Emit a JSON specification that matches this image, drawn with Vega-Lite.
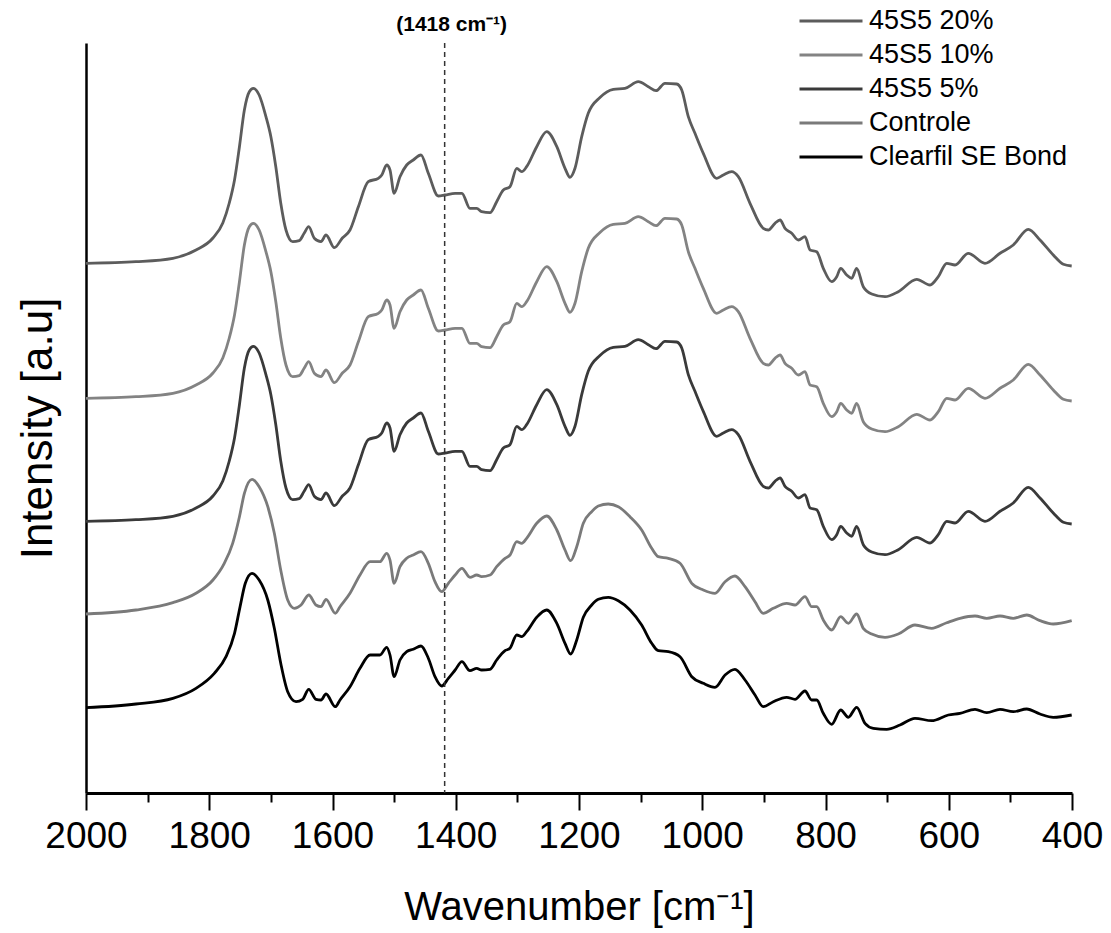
{
"$schema":"https://vega.github.io/schema/vega-lite/v6.json",
"width":986,"height":750,
"autosize":{"type":"none"},
"padding":{"left":86,"top":43,"right":39,"bottom":140},
"background":"white",
"config":{"font":"Liberation Sans","view":{"stroke":null}},
"datasets":{
"spectra":[
{"s":"45S5 20%","w":2000,"i":536.7},{"s":"45S5 20%","w":1919,"i":538.3},{"s":"45S5 20%","w":1859,"i":541.7},{"s":"45S5 20%","w":1821.5,"i":550},{"s":"45S5 20%","w":1794,"i":562},{"s":"45S5 20%","w":1778,"i":577},{"s":"45S5 20%","w":1767.5,"i":597},{"s":"45S5 20%","w":1759,"i":620},{"s":"45S5 20%","w":1751,"i":653.3},{"s":"45S5 20%","w":1743,"i":690},{"s":"45S5 20%","w":1735,"i":708.3},{"s":"45S5 20%","w":1728.5,"i":711.7},{"s":"45S5 20%","w":1719,"i":705},{"s":"45S5 20%","w":1708,"i":683.3},{"s":"45S5 20%","w":1700,"i":663.3},{"s":"45S5 20%","w":1692,"i":633.3},{"s":"45S5 20%","w":1684,"i":597},{"s":"45S5 20%","w":1675.5,"i":570},{"s":"45S5 20%","w":1664.6,"i":558.3},{"s":"45S5 20%","w":1654,"i":559.3},{"s":"45S5 20%","w":1646,"i":566.7},{"s":"45S5 20%","w":1638.6,"i":573.3},{"s":"45S5 20%","w":1629.5,"i":561.7},{"s":"45S5 20%","w":1618.7,"i":558.3},{"s":"45S5 20%","w":1610.5,"i":565},{"s":"45S5 20%","w":1597,"i":552.3},{"s":"45S5 20%","w":1584,"i":562},{"s":"45S5 20%","w":1571.6,"i":570},{"s":"45S5 20%","w":1558,"i":593.3},{"s":"45S5 20%","w":1542,"i":618.3},{"s":"45S5 20%","w":1525.7,"i":621.7},{"s":"45S5 20%","w":1520,"i":625},{"s":"45S5 20%","w":1512,"i":635},{"s":"45S5 20%","w":1506.7,"i":630},{"s":"45S5 20%","w":1500,"i":606.7},{"s":"45S5 20%","w":1490.5,"i":623.3},{"s":"45S5 20%","w":1479.6,"i":635},{"s":"45S5 20%","w":1469,"i":640},{"s":"45S5 20%","w":1456.4,"i":645},{"s":"45S5 20%","w":1444.5,"i":626.7},{"s":"45S5 20%","w":1428.3,"i":604},{"s":"45S5 20%","w":1417.4,"i":605},{"s":"45S5 20%","w":1401,"i":606.7},{"s":"45S5 20%","w":1390,"i":606.7},{"s":"45S5 20%","w":1377,"i":591.7},{"s":"45S5 20%","w":1366,"i":591.7},{"s":"45S5 20%","w":1358,"i":588.3},{"s":"45S5 20%","w":1344.4,"i":587.3},{"s":"45S5 20%","w":1333.6,"i":598.3},{"s":"45S5 20%","w":1322.8,"i":610},{"s":"45S5 20%","w":1312,"i":613.3},{"s":"45S5 20%","w":1301,"i":631.7},{"s":"45S5 20%","w":1293,"i":628.3},{"s":"45S5 20%","w":1285,"i":633.3},{"s":"45S5 20%","w":1268.6,"i":653.3},{"s":"45S5 20%","w":1252.4,"i":668.3},{"s":"45S5 20%","w":1236,"i":653.3},{"s":"45S5 20%","w":1222.7,"i":631.7},{"s":"45S5 20%","w":1214.6,"i":622.7},{"s":"45S5 20%","w":1206.5,"i":631.7},{"s":"45S5 20%","w":1195.6,"i":663.3},{"s":"45S5 20%","w":1185,"i":686.7},{"s":"45S5 20%","w":1166,"i":702.5},{"s":"45S5 20%","w":1144.3,"i":710.7},{"s":"45S5 20%","w":1125.4,"i":711.7},{"s":"45S5 20%","w":1103.8,"i":718.3},{"s":"45S5 20%","w":1087.5,"i":713.3},{"s":"45S5 20%","w":1075,"i":709.3},{"s":"45S5 20%","w":1060.5,"i":716.7},{"s":"45S5 20%","w":1041.5,"i":716},{"s":"45S5 20%","w":1033.3,"i":710},{"s":"45S5 20%","w":1022.6,"i":683.3},{"s":"45S5 20%","w":1011.8,"i":666.7},{"s":"45S5 20%","w":998.3,"i":646.7},{"s":"45S5 20%","w":976.5,"i":621.7},{"s":"45S5 20%","w":965.8,"i":625},{"s":"45S5 20%","w":952.2,"i":628.3},{"s":"45S5 20%","w":941.5,"i":623.3},{"s":"45S5 20%","w":922.5,"i":596.7},{"s":"45S5 20%","w":901,"i":571.7},{"s":"45S5 20%","w":892.8,"i":570},{"s":"45S5 20%","w":882,"i":576.7},{"s":"45S5 20%","w":873.8,"i":580},{"s":"45S5 20%","w":865.7,"i":571.7},{"s":"45S5 20%","w":854.8,"i":566.7},{"s":"45S5 20%","w":844,"i":560},{"s":"45S5 20%","w":833.3,"i":563.3},{"s":"45S5 20%","w":825,"i":550},{"s":"45S5 20%","w":814.3,"i":548.3},{"s":"45S5 20%","w":803.6,"i":531.7},{"s":"45S5 20%","w":790,"i":518.3},{"s":"45S5 20%","w":781.8,"i":523.3},{"s":"45S5 20%","w":775.3,"i":531.7},{"s":"45S5 20%","w":765.6,"i":525},{"s":"45S5 20%","w":757.5,"i":521.7},{"s":"45S5 20%","w":749.4,"i":531.7},{"s":"45S5 20%","w":738.7,"i":513.3},{"s":"45S5 20%","w":725,"i":506},{"s":"45S5 20%","w":703.4,"i":503.3},{"s":"45S5 20%","w":681.9,"i":508.3},{"s":"45S5 20%","w":652,"i":520.7},{"s":"45S5 20%","w":630.4,"i":515},{"s":"45S5 20%","w":617,"i":523.3},{"s":"45S5 20%","w":603.3,"i":536.7},{"s":"45S5 20%","w":589.8,"i":535},{"s":"45S5 20%","w":568.3,"i":546.7},{"s":"45S5 20%","w":541.2,"i":536.7},{"s":"45S5 20%","w":516.8,"i":546.7},{"s":"45S5 20%","w":495.3,"i":555},{"s":"45S5 20%","w":470.9,"i":570.7},{"s":"45S5 20%","w":451.9,"i":560},{"s":"45S5 20%","w":430.4,"i":545},{"s":"45S5 20%","w":414,"i":535.7},{"s":"45S5 20%","w":400.5,"i":534},
{"s":"45S5 10%","w":2000,"i":401.7},{"s":"45S5 10%","w":1919,"i":403.3},{"s":"45S5 10%","w":1859,"i":406.7},{"s":"45S5 10%","w":1821.5,"i":415},{"s":"45S5 10%","w":1794,"i":427},{"s":"45S5 10%","w":1778,"i":442},{"s":"45S5 10%","w":1767.5,"i":462},{"s":"45S5 10%","w":1759,"i":485},{"s":"45S5 10%","w":1751,"i":518.3},{"s":"45S5 10%","w":1743,"i":555},{"s":"45S5 10%","w":1735,"i":573.3},{"s":"45S5 10%","w":1728.5,"i":576.7},{"s":"45S5 10%","w":1719,"i":570},{"s":"45S5 10%","w":1708,"i":548.3},{"s":"45S5 10%","w":1700,"i":528.3},{"s":"45S5 10%","w":1692,"i":498.3},{"s":"45S5 10%","w":1684,"i":462},{"s":"45S5 10%","w":1675.5,"i":435},{"s":"45S5 10%","w":1664.6,"i":423.3},{"s":"45S5 10%","w":1654,"i":424.3},{"s":"45S5 10%","w":1646,"i":431.7},{"s":"45S5 10%","w":1638.6,"i":438.3},{"s":"45S5 10%","w":1629.5,"i":426.7},{"s":"45S5 10%","w":1618.7,"i":423.3},{"s":"45S5 10%","w":1610.5,"i":430},{"s":"45S5 10%","w":1597,"i":417.3},{"s":"45S5 10%","w":1584,"i":427},{"s":"45S5 10%","w":1571.6,"i":435},{"s":"45S5 10%","w":1558,"i":458.3},{"s":"45S5 10%","w":1542,"i":483.3},{"s":"45S5 10%","w":1525.7,"i":486.7},{"s":"45S5 10%","w":1520,"i":490},{"s":"45S5 10%","w":1512,"i":500},{"s":"45S5 10%","w":1506.7,"i":495},{"s":"45S5 10%","w":1500,"i":471.7},{"s":"45S5 10%","w":1490.5,"i":488.3},{"s":"45S5 10%","w":1479.6,"i":500},{"s":"45S5 10%","w":1469,"i":505},{"s":"45S5 10%","w":1456.4,"i":510},{"s":"45S5 10%","w":1444.5,"i":491.7},{"s":"45S5 10%","w":1428.3,"i":469},{"s":"45S5 10%","w":1417.4,"i":470},{"s":"45S5 10%","w":1401,"i":471.7},{"s":"45S5 10%","w":1390,"i":471.7},{"s":"45S5 10%","w":1377,"i":456.7},{"s":"45S5 10%","w":1366,"i":456.7},{"s":"45S5 10%","w":1358,"i":453.3},{"s":"45S5 10%","w":1344.4,"i":452.3},{"s":"45S5 10%","w":1333.6,"i":463.3},{"s":"45S5 10%","w":1322.8,"i":475},{"s":"45S5 10%","w":1312,"i":478.3},{"s":"45S5 10%","w":1301,"i":496.7},{"s":"45S5 10%","w":1293,"i":493.3},{"s":"45S5 10%","w":1285,"i":498.3},{"s":"45S5 10%","w":1268.6,"i":518.3},{"s":"45S5 10%","w":1252.4,"i":533.3},{"s":"45S5 10%","w":1236,"i":518.3},{"s":"45S5 10%","w":1222.7,"i":496.7},{"s":"45S5 10%","w":1214.6,"i":487.7},{"s":"45S5 10%","w":1206.5,"i":496.7},{"s":"45S5 10%","w":1195.6,"i":528.3},{"s":"45S5 10%","w":1185,"i":551.7},{"s":"45S5 10%","w":1166,"i":567.5},{"s":"45S5 10%","w":1144.3,"i":575.7},{"s":"45S5 10%","w":1125.4,"i":576.7},{"s":"45S5 10%","w":1103.8,"i":583.3},{"s":"45S5 10%","w":1087.5,"i":578.3},{"s":"45S5 10%","w":1075,"i":574.3},{"s":"45S5 10%","w":1060.5,"i":581.7},{"s":"45S5 10%","w":1041.5,"i":581},{"s":"45S5 10%","w":1033.3,"i":575},{"s":"45S5 10%","w":1022.6,"i":548.3},{"s":"45S5 10%","w":1011.8,"i":531.7},{"s":"45S5 10%","w":998.3,"i":511.7},{"s":"45S5 10%","w":976.5,"i":486.7},{"s":"45S5 10%","w":965.8,"i":490},{"s":"45S5 10%","w":952.2,"i":493.3},{"s":"45S5 10%","w":941.5,"i":488.3},{"s":"45S5 10%","w":922.5,"i":461.7},{"s":"45S5 10%","w":901,"i":436.7},{"s":"45S5 10%","w":892.8,"i":435},{"s":"45S5 10%","w":882,"i":441.7},{"s":"45S5 10%","w":873.8,"i":445},{"s":"45S5 10%","w":865.7,"i":436.7},{"s":"45S5 10%","w":854.8,"i":431.7},{"s":"45S5 10%","w":844,"i":425},{"s":"45S5 10%","w":833.3,"i":428.3},{"s":"45S5 10%","w":825,"i":415},{"s":"45S5 10%","w":814.3,"i":413.3},{"s":"45S5 10%","w":803.6,"i":396.7},{"s":"45S5 10%","w":790,"i":383.3},{"s":"45S5 10%","w":781.8,"i":388.3},{"s":"45S5 10%","w":775.3,"i":396.7},{"s":"45S5 10%","w":765.6,"i":390},{"s":"45S5 10%","w":757.5,"i":386.7},{"s":"45S5 10%","w":749.4,"i":396.7},{"s":"45S5 10%","w":738.7,"i":378.3},{"s":"45S5 10%","w":725,"i":371},{"s":"45S5 10%","w":703.4,"i":368.3},{"s":"45S5 10%","w":681.9,"i":373.3},{"s":"45S5 10%","w":652,"i":385.7},{"s":"45S5 10%","w":630.4,"i":380},{"s":"45S5 10%","w":617,"i":388.3},{"s":"45S5 10%","w":603.3,"i":401.7},{"s":"45S5 10%","w":589.8,"i":400},{"s":"45S5 10%","w":568.3,"i":411.7},{"s":"45S5 10%","w":541.2,"i":401.7},{"s":"45S5 10%","w":516.8,"i":411.7},{"s":"45S5 10%","w":495.3,"i":420},{"s":"45S5 10%","w":470.9,"i":435.7},{"s":"45S5 10%","w":451.9,"i":425},{"s":"45S5 10%","w":430.4,"i":410},{"s":"45S5 10%","w":414,"i":400.7},{"s":"45S5 10%","w":400.5,"i":399},
{"s":"45S5 5%","w":2000,"i":278.7},{"s":"45S5 5%","w":1919,"i":280.3},{"s":"45S5 5%","w":1859,"i":283.7},{"s":"45S5 5%","w":1821.5,"i":292},{"s":"45S5 5%","w":1794,"i":304},{"s":"45S5 5%","w":1778,"i":319},{"s":"45S5 5%","w":1767.5,"i":339},{"s":"45S5 5%","w":1759,"i":362},{"s":"45S5 5%","w":1751,"i":395.3},{"s":"45S5 5%","w":1743,"i":432},{"s":"45S5 5%","w":1735,"i":450.3},{"s":"45S5 5%","w":1728.5,"i":453.7},{"s":"45S5 5%","w":1719,"i":447},{"s":"45S5 5%","w":1708,"i":425.3},{"s":"45S5 5%","w":1700,"i":405.3},{"s":"45S5 5%","w":1692,"i":375.3},{"s":"45S5 5%","w":1684,"i":339},{"s":"45S5 5%","w":1675.5,"i":312},{"s":"45S5 5%","w":1664.6,"i":300.3},{"s":"45S5 5%","w":1654,"i":301.3},{"s":"45S5 5%","w":1646,"i":308.7},{"s":"45S5 5%","w":1638.6,"i":315.3},{"s":"45S5 5%","w":1629.5,"i":303.7},{"s":"45S5 5%","w":1618.7,"i":300.3},{"s":"45S5 5%","w":1610.5,"i":307},{"s":"45S5 5%","w":1597,"i":294.3},{"s":"45S5 5%","w":1584,"i":304},{"s":"45S5 5%","w":1571.6,"i":312},{"s":"45S5 5%","w":1558,"i":335.3},{"s":"45S5 5%","w":1542,"i":360.3},{"s":"45S5 5%","w":1525.7,"i":363.7},{"s":"45S5 5%","w":1520,"i":367},{"s":"45S5 5%","w":1512,"i":377},{"s":"45S5 5%","w":1506.7,"i":372},{"s":"45S5 5%","w":1500,"i":348.7},{"s":"45S5 5%","w":1490.5,"i":365.3},{"s":"45S5 5%","w":1479.6,"i":377},{"s":"45S5 5%","w":1469,"i":382},{"s":"45S5 5%","w":1456.4,"i":387},{"s":"45S5 5%","w":1444.5,"i":368.7},{"s":"45S5 5%","w":1428.3,"i":346},{"s":"45S5 5%","w":1417.4,"i":347},{"s":"45S5 5%","w":1401,"i":348.7},{"s":"45S5 5%","w":1390,"i":348.7},{"s":"45S5 5%","w":1377,"i":333.7},{"s":"45S5 5%","w":1366,"i":333.7},{"s":"45S5 5%","w":1358,"i":330.3},{"s":"45S5 5%","w":1344.4,"i":329.3},{"s":"45S5 5%","w":1333.6,"i":340.3},{"s":"45S5 5%","w":1322.8,"i":352},{"s":"45S5 5%","w":1312,"i":355.3},{"s":"45S5 5%","w":1301,"i":373.7},{"s":"45S5 5%","w":1293,"i":370.3},{"s":"45S5 5%","w":1285,"i":375.3},{"s":"45S5 5%","w":1268.6,"i":395.3},{"s":"45S5 5%","w":1252.4,"i":410.3},{"s":"45S5 5%","w":1236,"i":395.3},{"s":"45S5 5%","w":1222.7,"i":373.7},{"s":"45S5 5%","w":1214.6,"i":364.7},{"s":"45S5 5%","w":1206.5,"i":373.7},{"s":"45S5 5%","w":1195.6,"i":405.3},{"s":"45S5 5%","w":1185,"i":428.7},{"s":"45S5 5%","w":1166,"i":444.5},{"s":"45S5 5%","w":1144.3,"i":452.7},{"s":"45S5 5%","w":1125.4,"i":453.7},{"s":"45S5 5%","w":1103.8,"i":460.3},{"s":"45S5 5%","w":1087.5,"i":455.3},{"s":"45S5 5%","w":1075,"i":451.3},{"s":"45S5 5%","w":1060.5,"i":458.7},{"s":"45S5 5%","w":1041.5,"i":458},{"s":"45S5 5%","w":1033.3,"i":452},{"s":"45S5 5%","w":1022.6,"i":425.3},{"s":"45S5 5%","w":1011.8,"i":408.7},{"s":"45S5 5%","w":998.3,"i":388.7},{"s":"45S5 5%","w":976.5,"i":363.7},{"s":"45S5 5%","w":965.8,"i":367},{"s":"45S5 5%","w":952.2,"i":370.3},{"s":"45S5 5%","w":941.5,"i":365.3},{"s":"45S5 5%","w":922.5,"i":338.7},{"s":"45S5 5%","w":901,"i":313.7},{"s":"45S5 5%","w":892.8,"i":312},{"s":"45S5 5%","w":882,"i":318.7},{"s":"45S5 5%","w":873.8,"i":322},{"s":"45S5 5%","w":865.7,"i":313.7},{"s":"45S5 5%","w":854.8,"i":308.7},{"s":"45S5 5%","w":844,"i":302},{"s":"45S5 5%","w":833.3,"i":305.3},{"s":"45S5 5%","w":825,"i":292},{"s":"45S5 5%","w":814.3,"i":290.3},{"s":"45S5 5%","w":803.6,"i":273.7},{"s":"45S5 5%","w":790,"i":260.3},{"s":"45S5 5%","w":781.8,"i":265.3},{"s":"45S5 5%","w":775.3,"i":273.7},{"s":"45S5 5%","w":765.6,"i":267},{"s":"45S5 5%","w":757.5,"i":263.7},{"s":"45S5 5%","w":749.4,"i":273.7},{"s":"45S5 5%","w":738.7,"i":255.3},{"s":"45S5 5%","w":725,"i":248},{"s":"45S5 5%","w":703.4,"i":245.3},{"s":"45S5 5%","w":681.9,"i":250.3},{"s":"45S5 5%","w":652,"i":262.7},{"s":"45S5 5%","w":630.4,"i":257},{"s":"45S5 5%","w":617,"i":265.3},{"s":"45S5 5%","w":603.3,"i":278.7},{"s":"45S5 5%","w":589.8,"i":277},{"s":"45S5 5%","w":568.3,"i":288.7},{"s":"45S5 5%","w":541.2,"i":278.7},{"s":"45S5 5%","w":516.8,"i":288.7},{"s":"45S5 5%","w":495.3,"i":297},{"s":"45S5 5%","w":470.9,"i":312.7},{"s":"45S5 5%","w":451.9,"i":302},{"s":"45S5 5%","w":430.4,"i":287},{"s":"45S5 5%","w":414,"i":277.7},{"s":"45S5 5%","w":400.5,"i":276},
{"s":"Controle","w":2000,"i":186},{"s":"Controle","w":1919,"i":190},{"s":"Controle","w":1859,"i":197.3},{"s":"Controle","w":1821.5,"i":206.7},{"s":"Controle","w":1794,"i":220},{"s":"Controle","w":1775.6,"i":236.7},{"s":"Controle","w":1762,"i":256.7},{"s":"Controle","w":1751,"i":283.3},{"s":"Controle","w":1743,"i":306.7},{"s":"Controle","w":1730.6,"i":320.7},{"s":"Controle","w":1719,"i":313.3},{"s":"Controle","w":1705,"i":293.3},{"s":"Controle","w":1694.4,"i":266.7},{"s":"Controle","w":1684,"i":230},{"s":"Controle","w":1672.7,"i":200},{"s":"Controle","w":1662,"i":191.7},{"s":"Controle","w":1651,"i":195},{"s":"Controle","w":1638.6,"i":205},{"s":"Controle","w":1626.8,"i":195},{"s":"Controle","w":1618.7,"i":193.3},{"s":"Controle","w":1610.5,"i":200.7},{"s":"Controle","w":1595.5,"i":186.7},{"s":"Controle","w":1587.8,"i":193.3},{"s":"Controle","w":1571.6,"i":206.7},{"s":"Controle","w":1555.4,"i":225},{"s":"Controle","w":1539,"i":238.3},{"s":"Controle","w":1523,"i":238.3},{"s":"Controle","w":1512,"i":246.7},{"s":"Controle","w":1506.7,"i":240},{"s":"Controle","w":1500,"i":216.7},{"s":"Controle","w":1490.5,"i":233.3},{"s":"Controle","w":1479.6,"i":241.7},{"s":"Controle","w":1469,"i":245},{"s":"Controle","w":1456.4,"i":248.3},{"s":"Controle","w":1444.5,"i":236.7},{"s":"Controle","w":1433.7,"i":218.3},{"s":"Controle","w":1422.8,"i":208.3},{"s":"Controle","w":1412,"i":216.7},{"s":"Controle","w":1401,"i":225},{"s":"Controle","w":1390,"i":231.7},{"s":"Controle","w":1377,"i":222.7},{"s":"Controle","w":1366,"i":225},{"s":"Controle","w":1358,"i":223.3},{"s":"Controle","w":1344.4,"i":225},{"s":"Controle","w":1333.6,"i":233.3},{"s":"Controle","w":1320,"i":241.7},{"s":"Controle","w":1312,"i":245},{"s":"Controle","w":1301,"i":258.3},{"s":"Controle","w":1293,"i":256.7},{"s":"Controle","w":1285,"i":261.7},{"s":"Controle","w":1268.6,"i":276.7},{"s":"Controle","w":1252.4,"i":284},{"s":"Controle","w":1236,"i":270},{"s":"Controle","w":1222.7,"i":250},{"s":"Controle","w":1213.5,"i":239.3},{"s":"Controle","w":1203.7,"i":253.3},{"s":"Controle","w":1193,"i":276.7},{"s":"Controle","w":1179.4,"i":288.3},{"s":"Controle","w":1168.7,"i":294},{"s":"Controle","w":1152.5,"i":296},{"s":"Controle","w":1136.2,"i":293.3},{"s":"Controle","w":1117.3,"i":283.3},{"s":"Controle","w":1098.3,"i":270},{"s":"Controle","w":1082,"i":251.7},{"s":"Controle","w":1071.3,"i":243.3},{"s":"Controle","w":1055,"i":241.7},{"s":"Controle","w":1036,"i":236.7},{"s":"Controle","w":1017,"i":216.7},{"s":"Controle","w":998.3,"i":210},{"s":"Controle","w":979.3,"i":206.7},{"s":"Controle","w":963,"i":218.3},{"s":"Controle","w":946.9,"i":224},{"s":"Controle","w":930.6,"i":213.3},{"s":"Controle","w":914.4,"i":198.3},{"s":"Controle","w":901,"i":186.7},{"s":"Controle","w":884.7,"i":191.7},{"s":"Controle","w":863,"i":196.7},{"s":"Controle","w":849.5,"i":195},{"s":"Controle","w":833.3,"i":203.3},{"s":"Controle","w":822.4,"i":193.3},{"s":"Controle","w":814.3,"i":193.3},{"s":"Controle","w":803.6,"i":180},{"s":"Controle","w":790,"i":170},{"s":"Controle","w":775.3,"i":183.3},{"s":"Controle","w":763,"i":176.7},{"s":"Controle","w":749.4,"i":186},{"s":"Controle","w":738.7,"i":171.7},{"s":"Controle","w":725,"i":166},{"s":"Controle","w":703.4,"i":162.7},{"s":"Controle","w":681.9,"i":166},{"s":"Controle","w":654.8,"i":175},{"s":"Controle","w":627.7,"i":171.7},{"s":"Controle","w":603.3,"i":177.3},{"s":"Controle","w":581.8,"i":181.7},{"s":"Controle","w":557.4,"i":184},{"s":"Controle","w":538.4,"i":181.7},{"s":"Controle","w":516.8,"i":184},{"s":"Controle","w":495.3,"i":181.7},{"s":"Controle","w":473.5,"i":185},{"s":"Controle","w":451.9,"i":179.3},{"s":"Controle","w":430.4,"i":176},{"s":"Controle","w":400.5,"i":179.3},
{"s":"Clearfil SE Bond","w":2000,"i":92.3},{"s":"Clearfil SE Bond","w":1919,"i":96},{"s":"Clearfil SE Bond","w":1859,"i":101.7},{"s":"Clearfil SE Bond","w":1821.5,"i":111.7},{"s":"Clearfil SE Bond","w":1791.8,"i":126.7},{"s":"Clearfil SE Bond","w":1772.8,"i":143.3},{"s":"Clearfil SE Bond","w":1759,"i":166.7},{"s":"Clearfil SE Bond","w":1750,"i":193.3},{"s":"Clearfil SE Bond","w":1741.5,"i":216.7},{"s":"Clearfil SE Bond","w":1730.6,"i":226.7},{"s":"Clearfil SE Bond","w":1719,"i":220},{"s":"Clearfil SE Bond","w":1705,"i":200},{"s":"Clearfil SE Bond","w":1694.4,"i":171.7},{"s":"Clearfil SE Bond","w":1684,"i":136.7},{"s":"Clearfil SE Bond","w":1672.7,"i":108.3},{"s":"Clearfil SE Bond","w":1659.2,"i":98.3},{"s":"Clearfil SE Bond","w":1648.4,"i":100.7},{"s":"Clearfil SE Bond","w":1638.6,"i":110.7},{"s":"Clearfil SE Bond","w":1626.8,"i":100.7},{"s":"Clearfil SE Bond","w":1618.7,"i":100},{"s":"Clearfil SE Bond","w":1610.5,"i":106},{"s":"Clearfil SE Bond","w":1595.5,"i":93.3},{"s":"Clearfil SE Bond","w":1587.8,"i":100},{"s":"Clearfil SE Bond","w":1571.6,"i":113.3},{"s":"Clearfil SE Bond","w":1555.4,"i":131.7},{"s":"Clearfil SE Bond","w":1539,"i":145},{"s":"Clearfil SE Bond","w":1523,"i":145},{"s":"Clearfil SE Bond","w":1512,"i":152.7},{"s":"Clearfil SE Bond","w":1506.7,"i":145},{"s":"Clearfil SE Bond","w":1500,"i":123.3},{"s":"Clearfil SE Bond","w":1490.5,"i":140},{"s":"Clearfil SE Bond","w":1479.6,"i":148.3},{"s":"Clearfil SE Bond","w":1469,"i":150.7},{"s":"Clearfil SE Bond","w":1456.4,"i":154},{"s":"Clearfil SE Bond","w":1444.5,"i":141.7},{"s":"Clearfil SE Bond","w":1433.7,"i":123.3},{"s":"Clearfil SE Bond","w":1422.8,"i":114},{"s":"Clearfil SE Bond","w":1412,"i":121.7},{"s":"Clearfil SE Bond","w":1401,"i":130},{"s":"Clearfil SE Bond","w":1390,"i":138.3},{"s":"Clearfil SE Bond","w":1377,"i":129.3},{"s":"Clearfil SE Bond","w":1366,"i":131.7},{"s":"Clearfil SE Bond","w":1358,"i":130},{"s":"Clearfil SE Bond","w":1344.4,"i":130.7},{"s":"Clearfil SE Bond","w":1333.6,"i":140},{"s":"Clearfil SE Bond","w":1320,"i":149.3},{"s":"Clearfil SE Bond","w":1312,"i":151.7},{"s":"Clearfil SE Bond","w":1301,"i":165},{"s":"Clearfil SE Bond","w":1293,"i":163.3},{"s":"Clearfil SE Bond","w":1285,"i":168.3},{"s":"Clearfil SE Bond","w":1268.6,"i":182.7},{"s":"Clearfil SE Bond","w":1252.4,"i":190},{"s":"Clearfil SE Bond","w":1236,"i":176.7},{"s":"Clearfil SE Bond","w":1222.7,"i":156.7},{"s":"Clearfil SE Bond","w":1213.5,"i":146},{"s":"Clearfil SE Bond","w":1203.7,"i":160},{"s":"Clearfil SE Bond","w":1193,"i":182.7},{"s":"Clearfil SE Bond","w":1179.4,"i":195},{"s":"Clearfil SE Bond","w":1168.7,"i":200.7},{"s":"Clearfil SE Bond","w":1152.5,"i":202.7},{"s":"Clearfil SE Bond","w":1136.2,"i":199.3},{"s":"Clearfil SE Bond","w":1117.3,"i":190},{"s":"Clearfil SE Bond","w":1098.3,"i":175},{"s":"Clearfil SE Bond","w":1082,"i":156.7},{"s":"Clearfil SE Bond","w":1071.3,"i":149.3},{"s":"Clearfil SE Bond","w":1055,"i":148.3},{"s":"Clearfil SE Bond","w":1036,"i":143.3},{"s":"Clearfil SE Bond","w":1017,"i":123.3},{"s":"Clearfil SE Bond","w":998.3,"i":116.7},{"s":"Clearfil SE Bond","w":979.3,"i":112.7},{"s":"Clearfil SE Bond","w":963,"i":125},{"s":"Clearfil SE Bond","w":946.9,"i":130.7},{"s":"Clearfil SE Bond","w":930.6,"i":120},{"s":"Clearfil SE Bond","w":914.4,"i":105},{"s":"Clearfil SE Bond","w":901,"i":93.3},{"s":"Clearfil SE Bond","w":884.7,"i":98.3},{"s":"Clearfil SE Bond","w":863,"i":102.7},{"s":"Clearfil SE Bond","w":849.5,"i":100.7},{"s":"Clearfil SE Bond","w":833.3,"i":109},{"s":"Clearfil SE Bond","w":822.4,"i":100},{"s":"Clearfil SE Bond","w":814.3,"i":100},{"s":"Clearfil SE Bond","w":803.6,"i":86.7},{"s":"Clearfil SE Bond","w":790,"i":75.7},{"s":"Clearfil SE Bond","w":775.3,"i":90},{"s":"Clearfil SE Bond","w":763,"i":82.7},{"s":"Clearfil SE Bond","w":749.4,"i":92.7},{"s":"Clearfil SE Bond","w":735.9,"i":76.7},{"s":"Clearfil SE Bond","w":722.4,"i":71.7},{"s":"Clearfil SE Bond","w":700.7,"i":70.7},{"s":"Clearfil SE Bond","w":679.1,"i":75},{"s":"Clearfil SE Bond","w":654.8,"i":81.7},{"s":"Clearfil SE Bond","w":627.7,"i":79.3},{"s":"Clearfil SE Bond","w":600.7,"i":85},{"s":"Clearfil SE Bond","w":581.8,"i":86.7},{"s":"Clearfil SE Bond","w":557.4,"i":90.7},{"s":"Clearfil SE Bond","w":538.4,"i":87.3},{"s":"Clearfil SE Bond","w":516.8,"i":90.7},{"s":"Clearfil SE Bond","w":495.3,"i":88.3},{"s":"Clearfil SE Bond","w":473.5,"i":91},{"s":"Clearfil SE Bond","w":451.9,"i":86},{"s":"Clearfil SE Bond","w":430.4,"i":82.7},{"s":"Clearfil SE Bond","w":400.5,"i":85}
],
"marker":[{"w":1418,"i":775,"t":"(1418 cm⁻¹)"}]
},
"layer":[
{"data":{"name":"spectra"},
 "mark":{"type":"line","strokeWidth":2.8,"interpolate":"monotone"},
 "encoding":{
  "x":{"field":"w","type":"quantitative","scale":{"domain":[400,2000],"reverse":true,"nice":false,"zero":false},
   "axis":{"orient":"bottom","values":[2000,1800,1600,1400,1200,1000,800,600,400],"format":"d","grid":false,"tickSize":17,"tickWidth":2,"tickColor":"#000","domainWidth":3,"domainColor":"#000","labelFontSize":37,"labelColor":"#000","labelPadding":8,"labelFlush":false,"labelOverlap":false,"title":"Wavenumber [cm⁻¹]","titleFontSize":40,"titleFontWeight":"normal","titleColor":"#000","titlePadding":33}},
  "y":{"field":"i","type":"quantitative","scale":{"domain":[7,757],"nice":false,"zero":false},
   "axis":{"orient":"left","ticks":false,"labels":false,"grid":false,"domain":true,"domainWidth":2.5,"domainColor":"#000","title":"Intensity [a.u]","titleFontSize":44,"titleFontWeight":"normal","titleColor":"#000","titlePadding":26,"titleY":385}},
  "color":{"field":"s","type":"nominal",
   "scale":{"domain":["45S5 20%","45S5 10%","45S5 5%","Controle","Clearfil SE Bond"],"range":["#5c5c5c","#838383","#3a3a3a","#7a7a7a","#000000"]},
   "legend":{"orient":"none","legendX":731.5,"legendY":-35.5,"title":null,"padding":0,"symbolType":"M-3,0H3","symbolSize":441,"symbolStrokeWidth":3,"labelFontSize":27,"labelColor":"#000","labelOffset":24.5,"labelLimit":400,"rowPadding":6}}
 }},
{"data":{"name":"marker"},
 "mark":{"type":"rule","strokeDash":[5,4],"strokeWidth":1.5,"color":"#333"},
 "encoding":{
  "x":{"field":"w","type":"quantitative","axis":{"orient":"bottom","values":[1900,1700,1500,1300,1100,900,700,500],"labels":false,"domain":false,"grid":false,"tickSize":9,"tickWidth":2,"tickColor":"#000","title":null}}
 }},
{"data":{"name":"marker"},
 "mark":{"type":"text","fontSize":21,"fontWeight":"bold","color":"#000","align":"center","baseline":"middle","dx":7},
 "encoding":{
  "x":{"field":"w","type":"quantitative","axis":null},
  "y":{"field":"i","type":"quantitative","axis":{"orient":"left","ticks":false,"labels":false,"grid":false,"domain":true,"domainWidth":2.5,"domainColor":"#000","title":"Intensity [a.u]","titleFontSize":44,"titleFontWeight":"normal","titleColor":"#000","titlePadding":26,"titleY":385}},
  "text":{"field":"t"}
 }}
],
"resolve":{"axis":{"x":"independent"}}
}
